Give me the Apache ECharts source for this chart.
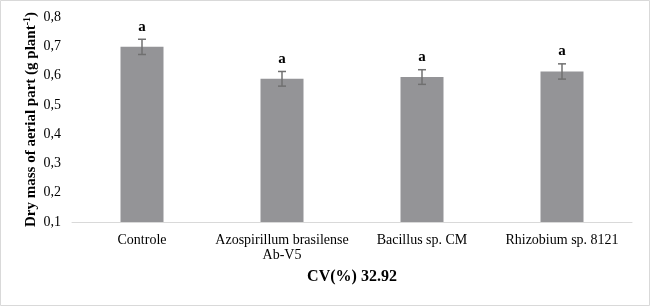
<!DOCTYPE html>
<html>
<head>
<meta charset="utf-8">
<script src="https://cdn.jsdelivr.net/npm/echarts@6/dist/echarts.min.js"></script>
<style>
html,body{margin:0;padding:0;background:#fff;}
#main{width:650px;height:306px;}
</style>
</head>
<body>
<div id="main"></div>
<script>
const categories = ['Controle', 'Azospirillum brasilense\nAb-V5', 'Bacillus sp. CM', 'Rhizobium sp. 8121'];
const means = [0.698, 0.589, 0.595, 0.614];
const errors = [0.026, 0.025, 0.025, 0.026];
const letters = ['a', 'a', 'a', 'a'];
const yTicks = { min: 0.1, max: 0.8, interval: 0.1 };
const yTitle = 'Dry mass of aerial part (g plant';
const cvText = 'CV(%) 32.92';

const font = '"Liberation Serif", "Times New Roman", serif';
const chart = echarts.init(document.getElementById('main'), null, { renderer: 'canvas' });

const errData = means.map((m, i) => [i, m, errors[i], letters[i]]);

chart.setOption({
  animation: false,
  backgroundColor: '#fff',
  grid: { left: 72, right: 18, top: 17, bottom: 84, containLabel: false },
  xAxis: {
    type: 'category',
    data: categories,
    axisLine: { show: true, lineStyle: { color: '#d9d9d9', width: 1 } },
    axisTick: { show: false },
    axisLabel: { color: '#000', fontFamily: font, fontSize: 14, margin: 11, lineHeight: 15, interval: 0 }
  },
  yAxis: {
    type: 'value',
    min: yTicks.min, max: yTicks.max, interval: yTicks.interval,
    axisLine: { show: false },
    axisTick: { show: false },
    splitLine: { show: false },
    axisLabel: {
      color: '#000', fontFamily: font, fontSize: 14, margin: 11,
      formatter: v => v.toFixed(1).replace('.', ',')
    },
    name: '{t|' + yTitle + '}{s|-1}{t|)}',
    nameLocation: 'middle',
    nameGap: 32,
    nameMoveOverlap: false,
    nameTextStyle: {
      rich: {
        t: { fontFamily: font, fontSize: 15, fontWeight: 'bold', color: '#000' },
        s: { fontFamily: font, fontSize: 10, fontWeight: 'bold', color: '#000', verticalAlign: 'top', padding: [0, 0, 8, 0] }
      }
    }
  },
  series: [
    {
      type: 'bar',
      data: means,
      barWidth: 43,
      itemStyle: { color: '#949497' },
      z: 2
    },
    {
      type: 'custom',
      data: errData,
      z: 5,
      renderItem: function (params, api) {
        const i = api.value(0), m = api.value(1), e = api.value(2);
        const top = api.coord([i, m + e]);
        const bot = api.coord([i, m - e]);
        const x = top[0];
        const cap = 4;
        const style = { stroke: '#707070', lineWidth: 1.5 };
        return {
          type: 'group',
          children: [
            { type: 'line', shape: { x1: x, y1: top[1], x2: x, y2: bot[1] }, style: style },
            { type: 'line', shape: { x1: x - cap, y1: top[1], x2: x + cap, y2: top[1] }, style: style },
            { type: 'line', shape: { x1: x - cap, y1: bot[1], x2: x + cap, y2: bot[1] }, style: style },
            { type: 'text', style: { x: x, y: top[1] - 5, text: letters[params.dataIndex], textAlign: 'center', textVerticalAlign: 'bottom', font: 'bold 15px ' + font, fill: '#000' } }
          ]
        };
      }
    }
  ],
  graphic: [
    { type: 'rect', shape: { x: 0.5, y: 0.5, width: 649, height: 305 }, style: { fill: 'none', stroke: '#d9d9d9', lineWidth: 1 }, silent: true },
    { type: 'text', x: 352, y: 277, style: { text: cvText, textAlign: 'center', textVerticalAlign: 'middle', font: 'bold 16px ' + font, fill: '#000' } }
  ]
});
</script>
</body>
</html>
